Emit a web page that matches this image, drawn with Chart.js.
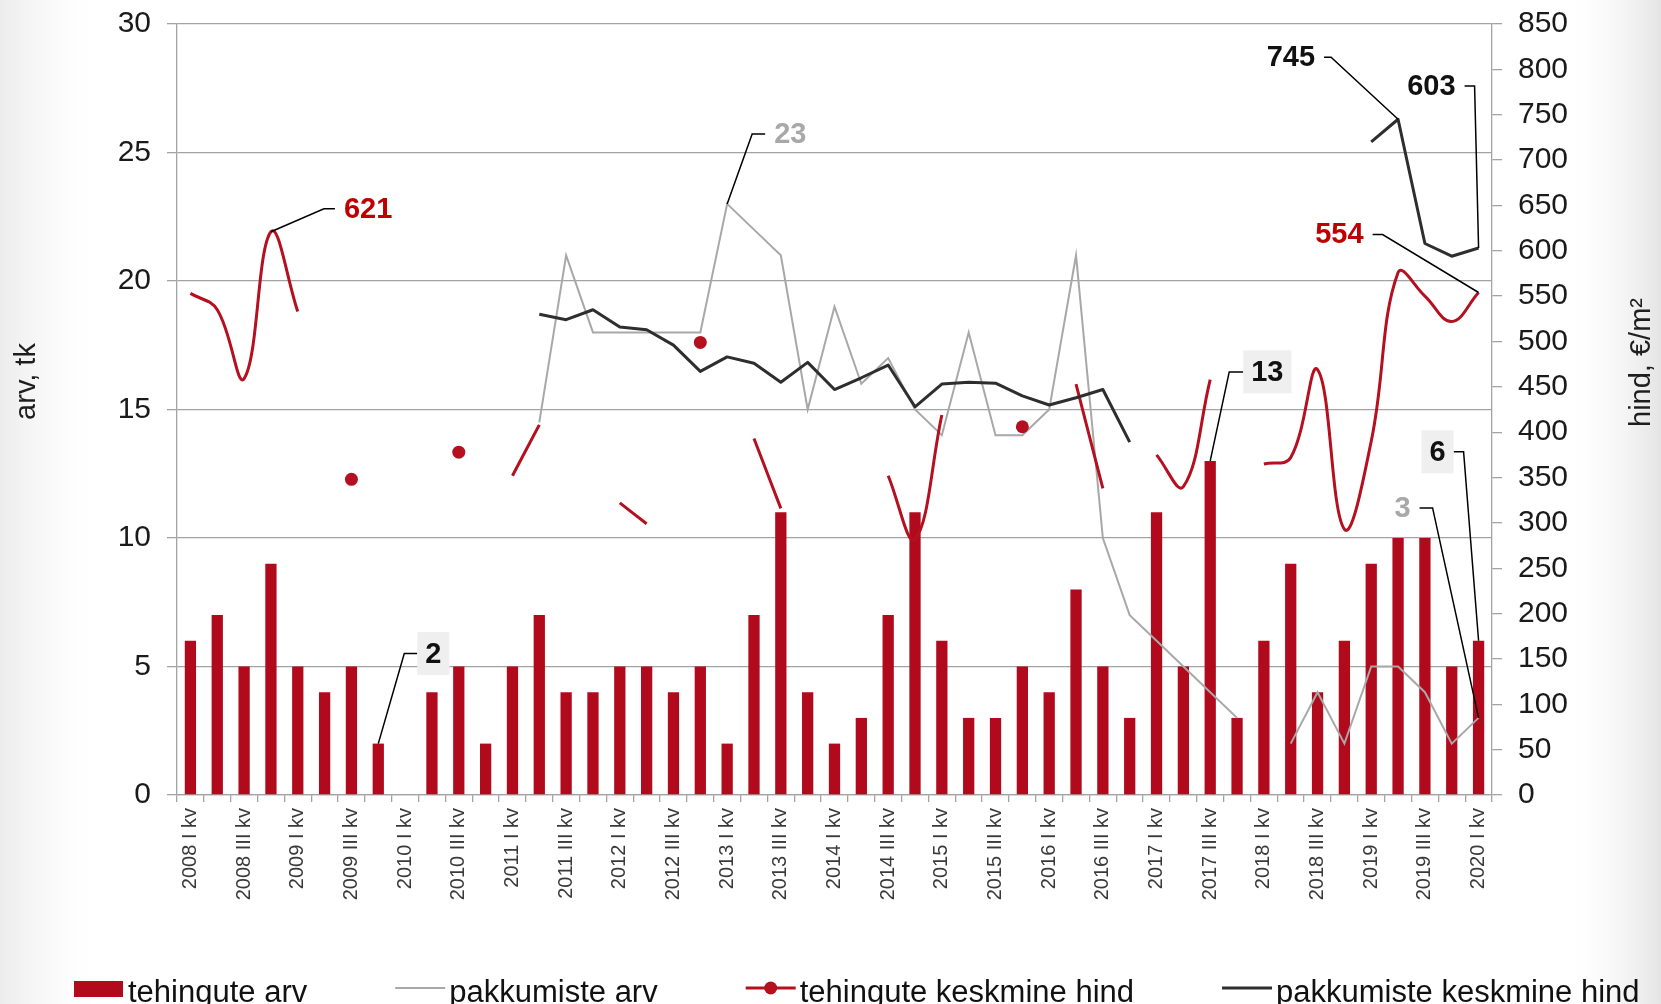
<!DOCTYPE html>
<html>
<head>
<meta charset="utf-8">
<script src="https://cdn.jsdelivr.net/npm/chart.js@4.4.1/dist/chart.umd.min.js"></script>
<style>
  html, body { margin: 0; padding: 0; background: #fff; }
  #wrap { width: 1661px; height: 1004px; }
</style>
</head>
<body>
<div id="wrap"><canvas id="chart" width="1661" height="1004"></canvas></div>
<script>
const quarters = [
  '2008 I kv', '2008 II kv', '2008 III kv', '2008 IV kv',
  '2009 I kv', '2009 II kv', '2009 III kv', '2009 IV kv',
  '2010 I kv', '2010 II kv', '2010 III kv', '2010 IV kv',
  '2011 I kv', '2011 II kv', '2011 III kv', '2011 IV kv',
  '2012 I kv', '2012 II kv', '2012 III kv', '2012 IV kv',
  '2013 I kv', '2013 II kv', '2013 III kv', '2013 IV kv',
  '2014 I kv', '2014 II kv', '2014 III kv', '2014 IV kv',
  '2015 I kv', '2015 II kv', '2015 III kv', '2015 IV kv',
  '2016 I kv', '2016 II kv', '2016 III kv', '2016 IV kv',
  '2017 I kv', '2017 II kv', '2017 III kv', '2017 IV kv',
  '2018 I kv', '2018 II kv', '2018 III kv', '2018 IV kv',
  '2019 I kv', '2019 II kv', '2019 III kv', '2019 IV kv',
  '2020 I kv'
];

// tehingute arv (left axis)
const dealCount = [
  6, 7, 5, 9,   5, 4, 5, 2,   null, 4, 5, 2,   5, 7, 4, 4,
  5, 5, 4, 5,   2, 7, 11, 4,  2, 3, 7, 11,     6, 3, 3, 5,
  4, 8, 5, 3,   11, 5, 13, 3, 6, 9, 4, 6,      9, 10, 10, 5,
  6
];

// pakkumiste arv (left axis)
const offerCount = [
  null, null, null, null, null, null, null, null, null, null, null, null,
  null, 14.5, 21, 18,  18, 18, 18, 18,  23, 22, 21, 15,
  19, 16, 17, 15,  14, 18, 14, 14,  15, 21, 10, 7,
  6, 5, 4, 3,  null, 2, 4, 2,  5, 5, 4, 2,
  3
];

// tehingute keskmine hind, €/m2 (right axis)
const dealPrice = [
  553, 535, 459, 621,  533, null, 348, null,  null, null, 378, null,
  352, 408, null, null,  322, 299, null, 499,  null, 393, 316, null,
  null, null, 352, 282,  419, null, null, 406,  null, 453, 338, null,
  375, 340, 458, null,  365, 372, 469, 293,  390, 576, 550, 522,
  554
];

// pakkumiste keskmine hind, €/m2 (right axis)
const offerPrice = [
  null, null, null, null, null, null, null, null, null, null, null, null,
  null, 530, 524, 535,  516, 513, 496, 467,  483, 476, 455, 477,
  447, 460, 474, 428,  453, 455, 454, 440,  430, 438, 447, 389,
  null, null, null, null,  null, null, null, null,  720, 745, 608, 594,
  603
];

const countTicks = { min: 0, max: 30, step: 5 };
const priceTicks = { min: 0, max: 850, step: 50 };

const FONT = "'Liberation Sans', Arial, sans-serif";
const BAR_RED = '#b00a1c';
const LINE_RED = '#b5101f';
const TEXT_RED = '#c00000';
const LIGHT_GREY = '#a8a8a8';
const DARK = '#2e2e2e';
const GRID = '#a3a3a3';

// which dataset / index gets a value label, and how its leader line runs
const callouts = [
  { ds: 2, i: 3,  color: TEXT_RED,  kink: [53, -23],    end: 64,   box: false },
  { ds: 1, i: 20, color: LIGHT_GREY, kink: [25, -70],   end: 38,   box: false },
  { ds: 0, i: 7,  color: '#111',    kink: [26, -90],    end: 39,   box: true },
  { ds: 0, i: 38, color: '#111',    kink: [19, -89],    end: 33,   box: true },
  { ds: 3, i: 45, color: '#111',    kink: [-67, -62],   end: -74,  box: false },
  { ds: 3, i: 48, color: '#111',    kink: [-4, -162],   end: -14,  box: false },
  { ds: 2, i: 48, color: TEXT_RED,  kink: [-96, -58],   end: -106, box: false },
  { ds: 0, i: 48, color: '#111',    kink: [-15, -189],  end: -25,  box: true },
  { ds: 1, i: 48, color: LIGHT_GREY, kink: [-46, -210], end: -59,  box: false }
];

const isolated = (arr, i) => arr[i] != null && arr[i - 1] == null && arr[i + 1] == null;

// faint grey shading at the page edges
const backdropPlugin = {
  id: 'backdrop',
  beforeDraw(chart) {
    const ctx = chart.ctx;
    const w = chart.width, h = chart.height;
    ctx.save();
    ctx.fillStyle = '#fff';
    ctx.fillRect(0, 0, w, h);
    let g = ctx.createLinearGradient(0, 0, 110, 0);
    g.addColorStop(0, 'rgba(236,236,236,1)');
    g.addColorStop(1, 'rgba(255,255,255,0)');
    ctx.fillStyle = g;
    ctx.fillRect(0, 0, 110, h);
    g = ctx.createLinearGradient(w - 100, 0, w, 0);
    g.addColorStop(0, 'rgba(255,255,255,0)');
    g.addColorStop(1, 'rgba(228,228,228,1)');
    ctx.fillStyle = g;
    ctx.fillRect(w - 100, 0, 100, h);
    ctx.restore();
  }
};

const calloutPlugin = {
  id: 'callouts',
  afterDatasetsDraw(chart) {
    const ctx = chart.ctx;
    callouts.forEach(c => {
      const el = chart.getDatasetMeta(c.ds).data[c.i];
      const value = chart.data.datasets[c.ds].data[c.i];
      const px = el.x, py = el.y;
      const ky = py + c.kink[1];
      const side = c.end > c.kink[0] ? 1 : -1;
      ctx.save();
      ctx.strokeStyle = '#000';
      ctx.lineWidth = 1.5;
      ctx.beginPath();
      ctx.moveTo(px, py);
      ctx.lineTo(px + c.kink[0], ky);
      ctx.lineTo(px + c.end, ky);
      ctx.stroke();

      ctx.font = 'bold 29px ' + FONT;
      ctx.textBaseline = 'middle';
      const txt = String(value);
      const tw = ctx.measureText(txt).width;
      let tx;
      if (c.box) {
        const bw = tw + 16;
        const bx = side > 0 ? px + c.end : px + c.end - bw;
        ctx.fillStyle = '#efefef';
        ctx.fillRect(bx, ky - 21.5, bw, 43);
        tx = bx + bw / 2;
        ctx.textAlign = 'center';
      } else {
        tx = px + c.end + side * 9;
        ctx.textAlign = side > 0 ? 'left' : 'right';
      }
      ctx.fillStyle = c.color;
      ctx.fillText(txt, tx, ky + 1);
      ctx.restore();
    });
  }
};

const decorPlugin = {
  id: 'decor',
  afterDraw(chart) {
    const ctx = chart.ctx;
    const area = chart.chartArea;
    const midY = (area.top + area.bottom) / 2;

    // axis titles, both reading bottom-to-top
    ctx.save();
    ctx.font = '29px ' + FONT;
    ctx.fillStyle = '#1e1e1e';
    ctx.textAlign = 'center';
    ctx.textBaseline = 'middle';
    ctx.translate(27, midY - 28);
    ctx.rotate(-Math.PI / 2);
    ctx.fillText('arv, tk', 0, 0);
    ctx.restore();

    ctx.save();
    ctx.font = '29px ' + FONT;
    ctx.fillStyle = '#1e1e1e';
    ctx.textAlign = 'center';
    ctx.textBaseline = 'middle';
    ctx.translate(area.right + 150, midY - 47);
    ctx.rotate(-Math.PI / 2);
    ctx.fillText('hind, €/m²', 0, 0);
    ctx.restore();

    // legend along the bottom edge
    let x = area.left - 103;
    const lineY = 988;
    chart.data.datasets.forEach(ds => {
      ctx.save();
      if (ds.type === 'line') {
        ctx.strokeStyle = ds.borderColor;
        ctx.lineWidth = ds.borderWidth;
        ctx.beginPath();
        ctx.moveTo(x, lineY);
        ctx.lineTo(x + 50, lineY);
        ctx.stroke();
        if (ds.legendMarker) {
          ctx.fillStyle = ds.borderColor;
          ctx.beginPath();
          ctx.arc(x + 25, lineY, 6.5, 0, Math.PI * 2);
          ctx.fill();
        }
      } else {
        ctx.fillStyle = ds.backgroundColor;
        ctx.fillRect(x, 981, 49, 16);
      }
      ctx.font = '31px ' + FONT;
      const w = ctx.measureText(ds.label).width;
      ctx.fillStyle = '#111';
      ctx.textBaseline = 'alphabetic';
      ctx.textAlign = 'left';
      ctx.fillText(ds.label, x + 54, 1002);
      ctx.restore();
      x += 54 + w + 88;
    });
  }
};

Chart.defaults.font.family = FONT;

new Chart(document.getElementById('chart'), {
  type: 'bar',
  data: {
    labels: quarters,
    datasets: [
      {
        type: 'bar',
        label: 'tehingute arv',
        data: dealCount,
        yAxisID: 'y',
        backgroundColor: BAR_RED,
        barPercentage: 0.42,
        categoryPercentage: 1.0,
        order: 4
      },
      {
        type: 'line',
        label: 'pakkumiste arv',
        data: offerCount,
        yAxisID: 'y',
        borderColor: LIGHT_GREY,
        borderWidth: 2,
        pointRadius: 0,
        tension: 0,
        spanGaps: false,
        order: 3
      },
      {
        type: 'line',
        label: 'tehingute keskmine hind',
        data: dealPrice,
        yAxisID: 'y1',
        borderColor: LINE_RED,
        backgroundColor: LINE_RED,
        borderWidth: 3,
        tension: 0.4,
        spanGaps: false,
        pointRadius: ctx => isolated(dealPrice, ctx.dataIndex) ? 6.5 : 0,
        pointBackgroundColor: LINE_RED,
        pointBorderWidth: 0,
        legendMarker: true,
        order: 2
      },
      {
        type: 'line',
        label: 'pakkumiste keskmine hind',
        data: offerPrice,
        yAxisID: 'y1',
        borderColor: DARK,
        borderWidth: 3,
        borderJoinStyle: 'round',
        pointRadius: 0,
        tension: 0,
        spanGaps: false,
        order: 1
      }
    ]
  },
  options: {
    responsive: false,
    animation: false,
    layout: { padding: { top: 24, left: 0, right: 0, bottom: 0 } },
    plugins: {
      legend: { display: false },
      tooltip: { enabled: false }
    },
    scales: {
      x: {
        offset: true,
        grid: { drawOnChartArea: false, drawTicks: true, tickLength: 7, color: GRID, lineWidth: 1.3, offset: true },
        border: { display: true, color: GRID, width: 1.3 },
        ticks: {
          autoSkip: false,
          maxRotation: 90,
          minRotation: 90,
          padding: 6,
          color: '#3a3a3a',
          font: { size: 20 },
          callback: (v, idx) => idx % 2 === 0 ? quarters[idx] : ''
        },
        afterFit: s => { s.height = 209; s.paddingLeft = 0; s.paddingRight = 0; }
      },
      y: {
        position: 'left',
        min: countTicks.min,
        max: countTicks.max,
        ticks: { stepSize: countTicks.step, padding: 16, color: '#1a1a1a', font: { size: 30 } },
        grid: { color: GRID, lineWidth: 1.3, tickLength: 10 },
        border: { display: true, color: GRID, width: 1.3 },
        afterFit: s => { s.width = 177; s.paddingTop = 0; s.paddingBottom = 0; }
      },
      y1: {
        position: 'right',
        min: priceTicks.min,
        max: priceTicks.max,
        ticks: { stepSize: priceTicks.step, padding: 16, color: '#1a1a1a', font: { size: 30 } },
        grid: { drawOnChartArea: false, color: GRID, lineWidth: 1.3, tickLength: 10 },
        border: { display: true, color: GRID, width: 1.3 },
        afterFit: s => { s.width = 169; s.paddingTop = 0; s.paddingBottom = 0; }
      }
    }
  },
  plugins: [backdropPlugin, calloutPlugin, decorPlugin]
});
</script>
</body>
</html>
